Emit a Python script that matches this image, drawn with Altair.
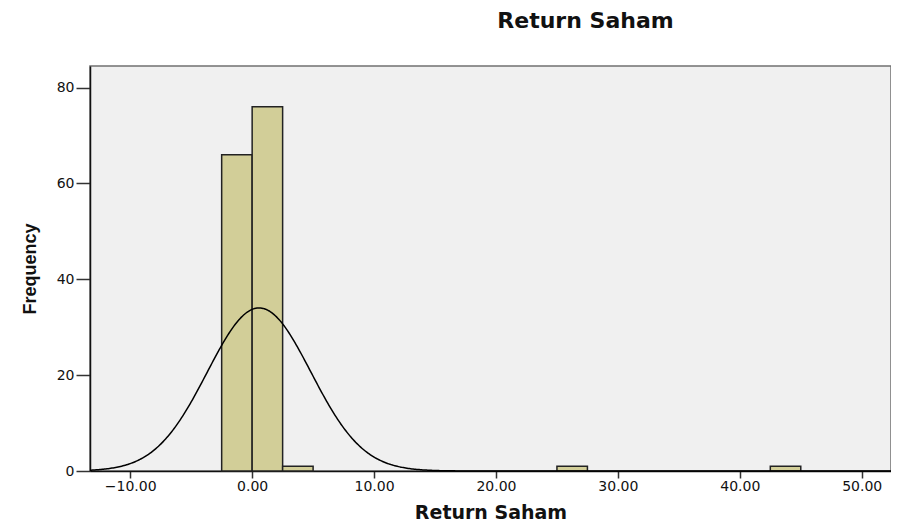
import altair as alt
import pandas as pd

# Histogram bins (Return Saham) and frequencies
bin_start = [-2.5, 0.0, 2.5, 25.0, 42.5]
bin_end = [0.0, 2.5, 5.0, 27.5, 45.0]
freq = [66, 76, 1, 1, 1]

# Normal curve parameters (as shown by the fitted curve)
mean = 0.57
sd = 4.25
n_total = 145
bin_width = 2.5

x_ticks = [-10, 0, 10, 20, 30, 40, 50]
y_ticks = [0, 20, 40, 60, 80]
x_domain = [-13.3, 52.4]
y_domain = [0, 84.5]

bars_df = pd.DataFrame({"start": bin_start, "end": bin_end, "freq": freq})

x_scale = alt.Scale(domain=x_domain, nice=False, zero=False)
y_scale = alt.Scale(domain=y_domain, nice=False)

x_axis = alt.Axis(values=x_ticks, format=".2f", grid=False, tickSize=7,
                  labelPadding=1, title="Return Saham", titlePadding=10)
y_axis = alt.Axis(values=y_ticks, grid=False, tickSize=14, labelPadding=2,
                  title="Frequency", titlePadding=17)

bars = alt.Chart(bars_df).mark_bar(
    color="#D2CE98", stroke="#222222", strokeWidth=1.5
).encode(
    x=alt.X("start:Q", scale=x_scale, axis=x_axis),
    x2="end:Q",
    y=alt.Y("freq:Q", scale=y_scale, axis=y_axis),
    y2=alt.datum(0),
)

curve = alt.Chart(alt.sequence(x_domain[0], x_domain[1] + 0.01, 0.1, as_="x")).transform_calculate(
    dens=f"{n_total * bin_width}/({sd}*sqrt(2*PI))*exp(-0.5*pow((datum.x-{mean})/{sd},2))"
).mark_line(color="black", strokeWidth=1.5).encode(
    x=alt.X("x:Q", scale=x_scale),
    y=alt.Y("dens:Q", scale=y_scale),
)

chart = alt.layer(bars, curve).properties(
    width=801,
    height=405,
    autosize=alt.AutoSizeParams(type="none"),
    padding={"left": 82, "top": 58, "right": 0, "bottom": 50},
    title=alt.Title("Return Saham", dx=95, offset=33, anchor="middle",
                    font="DejaVu Sans", fontSize=22, fontWeight="bold", color="#111111"),
).configure_view(
    fill="#F0F0F0", stroke="#707070", strokeWidth=1.5
).configure_axis(
    domainColor="#111111", domainWidth=1.5, tickColor="#333333", tickWidth=1.5,
    labelFont="DejaVu Sans", labelFontSize=14, labelColor="#111111",
    titleFont="DejaVu Sans", titleFontSize=19, titleFontWeight="bold", titleColor="#111111",
).configure_axisY(
    titleFont="Liberation Sans", titleFontSize=18,
)

chart.save("out.html", embed_options={"renderer": "svg", "actions": False})
